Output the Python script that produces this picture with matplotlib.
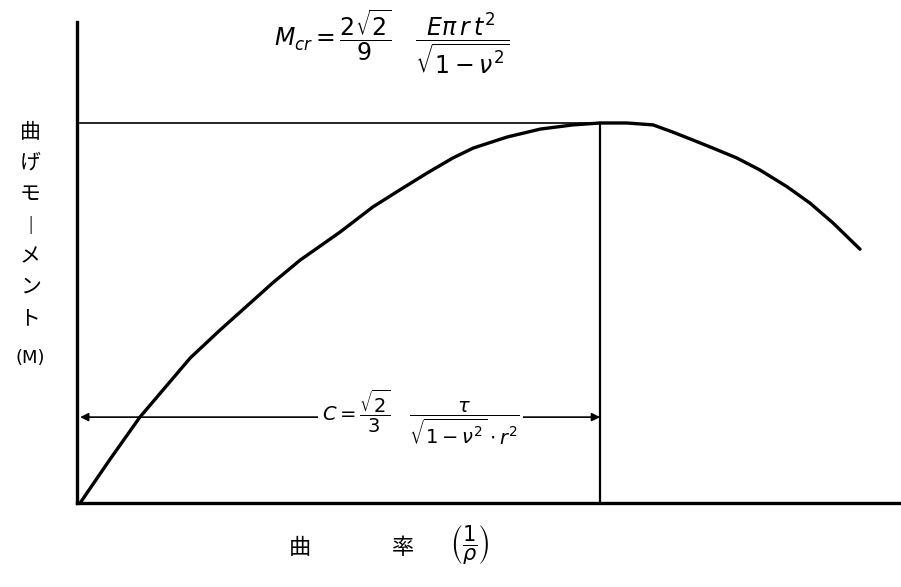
import matplotlib.pyplot as plt

plt.rcParams['font.family'] = ['Noto Sans CJK JP', 'DejaVu Sans']
plt.rcParams['mathtext.fontset'] = 'dejavusans'

# curvature (1/rho), normalised so the critical curvature C = 1
curvature = [0, 0.058, 0.115, 0.212, 0.269, 0.327, 0.371, 0.423, 0.5, 0.563,
             0.615, 0.667, 0.717, 0.756, 0.821, 0.885, 0.948, 1.0, 1.052,
             1.102, 1.140, 1.179, 1.217, 1.263, 1.308, 1.360, 1.404, 1.448,
             1.5]
# bending moment M, normalised so M_cr = 1
moment = [0, 0.116, 0.226, 0.382, 0.455, 0.526, 0.580, 0.639, 0.713, 0.779,
          0.824, 0.868, 0.908, 0.934, 0.963, 0.984, 0.995, 1.0, 1.0,
          0.995, 0.976, 0.955, 0.934, 0.908, 0.876, 0.832, 0.789, 0.737,
          0.668]
c_crit = 1.0
m_crit = 1.0

ylabel_chars = ['曲', 'げ', 'モ', '|', 'メ', 'ン', 'ト']
W, H = 901, 587


def fig_xy(x, y):
    return x / W, 1 - y / H


fig = plt.figure(figsize=(W / 100, H / 100), dpi=100)
ax = fig.add_axes([77 / W, (H - 503) / H, (W - 77) / W, (503 - 22) / H])

ax.plot(curvature, moment, color='black', lw=2.4, solid_capstyle='round',
        solid_joinstyle='round')
ax.plot([0, c_crit], [m_crit, m_crit], color='black', lw=1.2)
ax.plot([c_crit, c_crit], [0, m_crit], color='black', lw=1.6)

ax.set_xlim(-0.006, (W - 80) / 520)
ax.set_ylim(0, (503 - 22) / 380)
ax.set_xticks([])
ax.set_yticks([])
for s in ['top', 'right']:
    ax.spines[s].set_visible(False)
ax.spines['left'].set_linewidth(2.4)
ax.spines['bottom'].set_linewidth(2.4)

# dimension arrow for the critical curvature
arrow_y = 0.226
ax.annotate('', xy=(0, arrow_y), xytext=(c_crit, arrow_y),
            arrowprops=dict(arrowstyle='<|-|>', color='black', lw=1.2,
                            mutation_scale=12, shrinkA=0, shrinkB=0))
ax.text(0.655, arrow_y,
        r'$C=\dfrac{\sqrt{2}}{3}\quad\dfrac{\tau}{\sqrt{1-\nu^2}\cdot r^2}$',
        ha='center', va='center', fontsize=14,
        bbox=dict(facecolor='white', edgecolor='none', pad=3))

fig.text(*fig_xy(392, 42),
         r'$M_{cr}=\dfrac{2\sqrt{2}}{9}\quad\dfrac{E\pi\,r\,t^2}{\sqrt{1-\nu^2}}$',
         ha='center', va='center', fontsize=17)

for i, ch in enumerate(ylabel_chars):
    fs = 11 if ch == '|' else 15
    fig.text(*fig_xy(30, 132 + i * 31), ch, ha='center', va='center',
             fontsize=fs)
fig.text(*fig_xy(30, 358), '(M)', ha='center', va='center', fontsize=13,
         family='DejaVu Sans')

fig.text(*fig_xy(300, 547), '曲', ha='center', va='center', fontsize=16)
fig.text(*fig_xy(403, 547), '率', ha='center', va='center', fontsize=16)
fig.text(*fig_xy(470, 545), r'$\left(\dfrac{1}{\rho}\right)$', ha='center',
         va='center', fontsize=15)

fig.savefig('out.png', dpi=100)
